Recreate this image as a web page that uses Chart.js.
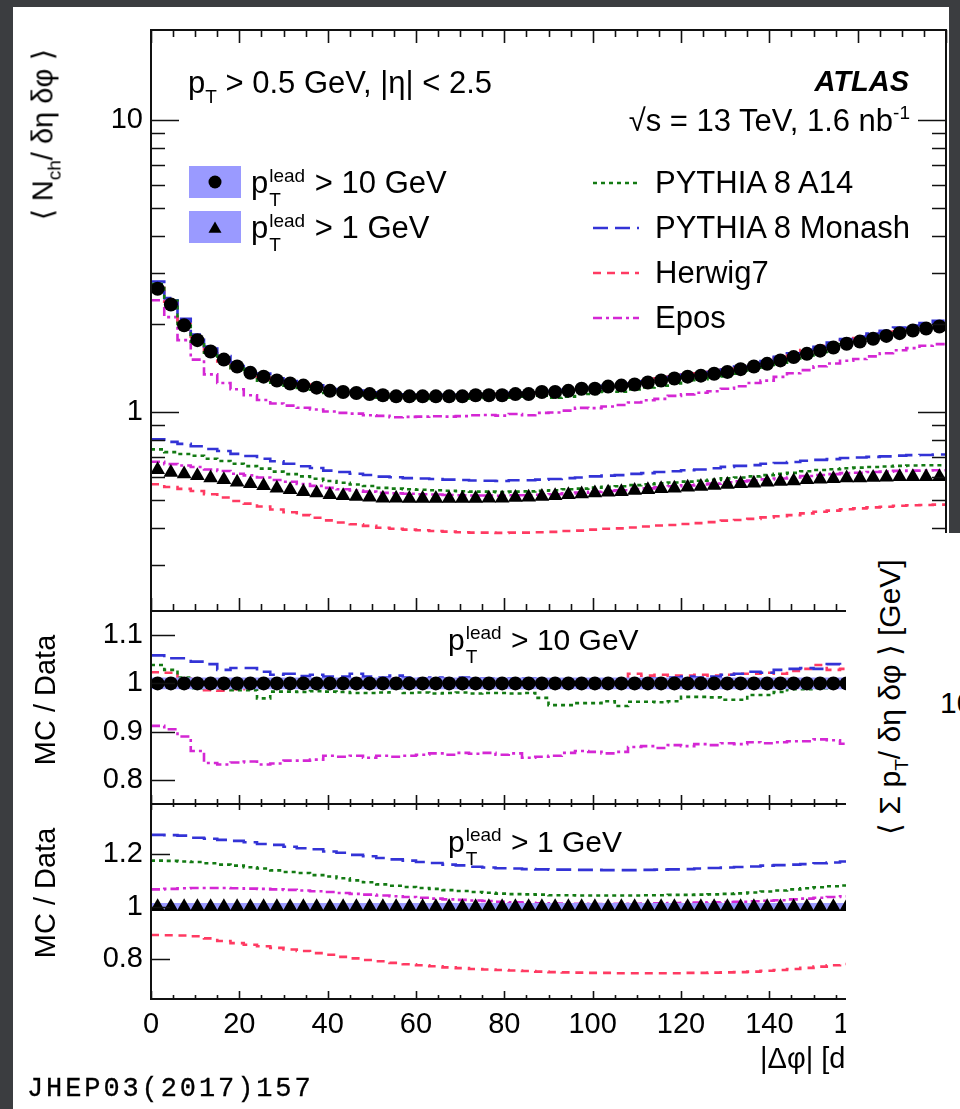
<!DOCTYPE html>
<html><head><meta charset="utf-8">
<script src="https://cdn.jsdelivr.net/npm/chart.js@4.4.1/dist/chart.umd.min.js"></script>
<style>
html,body{margin:0;padding:0;}
body{width:960px;height:1109px;background:#3b3d40;position:relative;overflow:hidden;font-family:'Liberation Sans',Arial,Helvetica,sans-serif;}
#sheet{position:absolute;left:13px;top:7px;width:936px;height:1102px;background:#fff;z-index:0;}
canvas{position:absolute;left:0;top:0;}
.t{position:absolute;white-space:nowrap;color:#000;line-height:1;z-index:4;}
#overlay{position:absolute;left:846px;top:533px;width:114px;height:576px;background:#fff;overflow:hidden;z-index:6;}
</style></head>
<body>
<div id="sheet"></div>
<canvas id="c1" width="960" height="1109" style="z-index:1"></canvas>
<canvas id="c2" width="960" height="1109" style="z-index:2"></canvas>
<canvas id="c3" width="960" height="1109" style="z-index:3"></canvas>
<div id="overlay"></div>
<script>
// ---------------- data ----------------
const binCenters = [1.5,4.5,7.5,10.5,13.5,16.5,19.5,22.5,25.5,28.5,31.5,34.5,37.5,40.5,43.5,46.5,49.5,52.5,55.5,58.5,61.5,64.5,67.5,70.5,73.5,76.5,79.5,82.5,85.5,88.5,91.5,94.5,97.5,100.5,103.5,106.5,109.5,112.5,115.5,118.5,121.5,124.5,127.5,130.5,133.5,136.5,139.5,142.5,145.5,148.5,151.5,154.5,157.5,160.5,163.5,166.5,169.5,172.5,175.5,178.5];
const binWidth = 3;

// pT lead > 10 GeV
const data10 = [2.64,2.33,1.98,1.76,1.61,1.51,1.43,1.36,1.32,1.28,1.25,1.23,1.21,1.18,1.17,1.16,1.15,1.14,1.13,1.13,1.13,1.13,1.13,1.13,1.14,1.14,1.14,1.15,1.15,1.17,1.17,1.18,1.20,1.20,1.22,1.23,1.24,1.26,1.28,1.30,1.32,1.33,1.35,1.37,1.40,1.43,1.46,1.50,1.54,1.58,1.62,1.66,1.71,1.74,1.78,1.82,1.86,1.90,1.93,1.96];
const a14_10 = [2.74,2.40,2.00,1.74,1.594,1.495,1.410,1.341,1.279,1.258,1.229,1.208,1.191,1.160,1.149,1.137,1.127,1.118,1.119,1.107,1.109,1.106,1.107,1.109,1.116,1.117,1.117,1.126,1.127,1.135,1.117,1.127,1.151,1.151,1.175,1.172,1.193,1.212,1.230,1.252,1.283,1.293,1.311,1.323,1.352,1.396,1.425,1.473,1.522,1.561,1.604,1.652,1.703,1.737,1.78,1.82,1.856,1.90,1.93,1.96];
const monash10 = [2.793,2.451,2.083,1.839,1.674,1.552,1.476,1.404,1.352,1.303,1.275,1.248,1.232,1.197,1.186,1.183,1.166,1.154,1.148,1.144,1.141,1.144,1.141,1.144,1.151,1.151,1.149,1.162,1.162,1.179,1.177,1.189,1.207,1.207,1.227,1.237,1.250,1.273,1.293,1.316,1.338,1.346,1.369,1.395,1.428,1.464,1.492,1.542,1.586,1.631,1.669,1.726,1.775,1.810,1.855,1.893,1.944,1.976,2.015,2.050];
const herwig10 = [2.701,2.381,2.000,1.760,1.587,1.487,1.413,1.346,1.309,1.280,1.258,1.240,1.216,1.189,1.177,1.172,1.157,1.149,1.141,1.139,1.141,1.139,1.141,1.141,1.149,1.151,1.149,1.157,1.159,1.177,1.175,1.187,1.205,1.207,1.226,1.237,1.265,1.280,1.303,1.321,1.341,1.354,1.372,1.395,1.428,1.459,1.492,1.530,1.580,1.627,1.682,1.707,1.761,1.789,1.833,1.878,1.916,1.953,1.988,2.019];
const epos10 = [2.41,2.11,1.76,1.51,1.344,1.256,1.195,1.140,1.098,1.068,1.050,1.033,1.019,1.003,0.992,0.986,0.973,0.969,0.958,0.961,0.963,0.966,0.963,0.967,0.974,0.976,0.971,0.983,0.973,0.992,0.995,1.010,1.032,1.030,1.043,1.055,1.076,1.096,1.108,1.134,1.148,1.162,1.177,1.200,1.224,1.256,1.279,1.317,1.355,1.390,1.432,1.464,1.496,1.517,1.549,1.587,1.626,1.653,1.683,1.705];

// pT lead > 1 GeV
const data1 = [0.633,0.620,0.612,0.604,0.593,0.585,0.574,0.567,0.558,0.548,0.541,0.533,0.527,0.520,0.516,0.513,0.510,0.506,0.506,0.505,0.505,0.505,0.505,0.505,0.505,0.506,0.506,0.509,0.510,0.513,0.516,0.520,0.523,0.527,0.531,0.533,0.538,0.541,0.545,0.548,0.552,0.555,0.559,0.564,0.567,0.570,0.574,0.577,0.580,0.585,0.588,0.590,0.593,0.594,0.596,0.597,0.599,0.600,0.600,0.600];
const a14_1 = [0.744,0.728,0.717,0.707,0.691,0.679,0.664,0.652,0.639,0.624,0.612,0.601,0.590,0.580,0.572,0.564,0.557,0.549,0.546,0.543,0.541,0.539,0.537,0.535,0.533,0.533,0.531,0.533,0.534,0.537,0.539,0.543,0.546,0.550,0.554,0.556,0.561,0.565,0.569,0.573,0.577,0.581,0.585,0.592,0.596,0.601,0.607,0.613,0.618,0.626,0.632,0.636,0.641,0.644,0.647,0.650,0.653,0.655,0.656,0.656];
const monash1 = [0.806,0.789,0.777,0.762,0.746,0.734,0.718,0.706,0.691,0.677,0.664,0.651,0.642,0.629,0.622,0.614,0.608,0.600,0.597,0.593,0.591,0.589,0.586,0.584,0.582,0.581,0.580,0.583,0.583,0.586,0.589,0.593,0.596,0.601,0.605,0.607,0.613,0.617,0.622,0.626,0.631,0.635,0.641,0.648,0.653,0.657,0.664,0.668,0.673,0.680,0.685,0.689,0.695,0.698,0.701,0.704,0.708,0.711,0.712,0.714];
const herwig1 = [0.565,0.553,0.545,0.536,0.522,0.509,0.495,0.485,0.474,0.463,0.453,0.443,0.434,0.425,0.418,0.412,0.407,0.401,0.398,0.395,0.393,0.391,0.389,0.387,0.386,0.386,0.385,0.386,0.386,0.387,0.388,0.391,0.392,0.395,0.398,0.399,0.402,0.405,0.408,0.410,0.413,0.416,0.419,0.424,0.426,0.430,0.435,0.439,0.443,0.449,0.455,0.459,0.464,0.467,0.471,0.473,0.477,0.479,0.480,0.481];
const epos1 = [0.675,0.662,0.655,0.647,0.635,0.627,0.614,0.606,0.596,0.584,0.576,0.566,0.558,0.549,0.543,0.538,0.533,0.528,0.526,0.524,0.522,0.521,0.519,0.518,0.517,0.517,0.516,0.518,0.518,0.520,0.522,0.526,0.529,0.532,0.536,0.539,0.544,0.547,0.552,0.556,0.560,0.564,0.568,0.574,0.578,0.582,0.587,0.591,0.596,0.603,0.608,0.612,0.617,0.619,0.622,0.624,0.628,0.629,0.630,0.631];

// MC / Data ratios
const ratioData = [1,1,1,1,1,1,1,1,1,1,1,1,1,1,1,1,1,1,1,1,1,1,1,1,1,1,1,1,1,1,1,1,1,1,1,1,1,1,1,1,1,1,1,1,1,1,1,1,1,1,1,1,1,1,1,1,1,1,1,1];
const rA14_10 = [1.038,1.028,1.012,0.99,0.99,0.99,0.986,0.986,0.969,0.983,0.983,0.982,0.984,0.983,0.982,0.98,0.98,0.981,0.99,0.98,0.981,0.979,0.98,0.981,0.979,0.98,0.98,0.979,0.98,0.97,0.955,0.955,0.959,0.959,0.963,0.953,0.962,0.962,0.961,0.963,0.972,0.972,0.971,0.966,0.966,0.976,0.976,0.982,0.988,0.988,0.99,0.995,0.996,0.998,1.0,1.0,0.998,1.0,1.0,1.0];
const rMon10 = [1.058,1.052,1.052,1.045,1.040,1.028,1.032,1.032,1.024,1.018,1.020,1.015,1.018,1.014,1.014,1.020,1.014,1.012,1.016,1.012,1.010,1.012,1.010,1.012,1.010,1.010,1.008,1.010,1.010,1.008,1.006,1.008,1.006,1.006,1.006,1.006,1.008,1.010,1.010,1.012,1.014,1.012,1.014,1.018,1.020,1.024,1.022,1.028,1.030,1.032,1.030,1.040,1.038,1.040,1.042,1.040,1.045,1.040,1.044,1.046];
const rHer10 = [1.023,1.022,1.01,1.0,0.986,0.985,0.988,0.99,0.992,1.0,1.006,1.008,1.005,1.008,1.006,1.01,1.006,1.008,1.01,1.008,1.01,1.008,1.01,1.01,1.008,1.01,1.008,1.006,1.008,1.006,1.004,1.006,1.004,1.006,1.005,1.006,1.02,1.016,1.018,1.016,1.016,1.018,1.016,1.018,1.02,1.02,1.022,1.02,1.026,1.03,1.038,1.028,1.03,1.028,1.03,1.032,1.03,1.028,1.03,1.03];
const rEpos10 = [0.912,0.905,0.89,0.86,0.835,0.832,0.836,0.838,0.832,0.834,0.84,0.84,0.842,0.85,0.848,0.85,0.846,0.85,0.848,0.85,0.852,0.855,0.852,0.856,0.854,0.856,0.852,0.855,0.846,0.848,0.85,0.856,0.86,0.858,0.855,0.858,0.868,0.87,0.866,0.872,0.87,0.874,0.872,0.876,0.874,0.878,0.876,0.878,0.88,0.88,0.884,0.882,0.875,0.872,0.87,0.872,0.874,0.87,0.872,0.87];
const rA14_1 = [1.175,1.174,1.172,1.170,1.165,1.160,1.156,1.150,1.145,1.138,1.132,1.128,1.120,1.115,1.108,1.100,1.093,1.085,1.080,1.075,1.071,1.068,1.063,1.060,1.056,1.053,1.050,1.048,1.047,1.046,1.044,1.044,1.043,1.043,1.043,1.043,1.043,1.044,1.044,1.045,1.045,1.046,1.047,1.049,1.051,1.054,1.058,1.062,1.066,1.070,1.074,1.078,1.081,1.084,1.086,1.088,1.090,1.092,1.093,1.094];
const rMon1 = [1.273,1.272,1.27,1.262,1.258,1.254,1.25,1.245,1.238,1.235,1.228,1.222,1.218,1.21,1.205,1.197,1.192,1.185,1.18,1.175,1.17,1.166,1.16,1.157,1.152,1.149,1.146,1.145,1.143,1.142,1.141,1.141,1.140,1.140,1.139,1.139,1.139,1.140,1.141,1.142,1.143,1.145,1.147,1.149,1.151,1.153,1.156,1.158,1.160,1.162,1.165,1.168,1.172,1.175,1.177,1.18,1.182,1.185,1.187,1.19];
const rHer1 = [0.893,0.892,0.891,0.888,0.880,0.870,0.862,0.856,0.850,0.844,0.838,0.832,0.824,0.818,0.810,0.804,0.798,0.793,0.787,0.782,0.778,0.774,0.770,0.767,0.764,0.762,0.760,0.758,0.756,0.754,0.752,0.751,0.750,0.749,0.749,0.748,0.748,0.748,0.748,0.748,0.749,0.749,0.750,0.751,0.752,0.754,0.757,0.760,0.764,0.768,0.773,0.778,0.783,0.787,0.790,0.793,0.796,0.798,0.800,0.802];
const rEpos1 = [1.066,1.068,1.070,1.071,1.071,1.071,1.070,1.069,1.068,1.066,1.064,1.062,1.059,1.056,1.052,1.049,1.046,1.043,1.040,1.037,1.034,1.031,1.028,1.026,1.024,1.022,1.019,1.017,1.015,1.013,1.012,1.011,1.011,1.010,1.010,1.011,1.011,1.012,1.013,1.014,1.015,1.016,1.017,1.018,1.019,1.021,1.023,1.025,1.028,1.031,1.034,1.037,1.040,1.042,1.044,1.046,1.048,1.049,1.050,1.051];
const ratioBandHalf10 = 0.012;
const ratioBandHalf1 = 0.014;

// tick labels
const xTickValues = [0,20,40,60,80,100,120,140,160,180];
const xMinorValues = [5,10,15,25,30,35,45,50,55,65,70,75,85,90,95,105,110,115,125,130,135,145,150,155,165,170,175];
const topYTicks = [0.3,0.4,0.5,0.6,0.7,0.8,0.9,1,2,3,4,5,6,7,8,9,10];
const topYLabels = {1:'1', 10:'10'};
const r10YTicks = [0.8,0.9,1,1.1];
const r10YLabels = {0.8:'0.8', 0.9:'0.9', 1:'1', 1.1:'1.1'};
const r1YTicks = [0.8,1,1.2];
const r1YLabels = {0.8:'0.8', 1:'1', 1.2:'1.2'};
const seriesNames = ['PYTHIA 8 A14','PYTHIA 8 Monash','Herwig7','Epos'];

// ---------------- styles ----------------
const FONT = "'Liberation Sans', Arial, Helvetica, sans-serif";
const ST = {
  a14:  {color:'#137a13', dash:[4,4]},
  mon:  {color:'#3333d6', dash:[15,7]},
  her:  {color:'#ff3a62', dash:[8,6]},
  epos: {color:'#d427d4', dash:[9,4,3,4]}
};
const BAND = '#9a9aff';
const CIRCLE_R = 7, TRI_R = 8.5;

function stepPts(vals){
  const p = vals.map((v,i)=>({x: binCenters[i]-binWidth/2, y: v}));
  p.push({x: binCenters[binCenters.length-1]+binWidth/2, y: vals[vals.length-1]});
  return p;
}
function ctrPts(vals){ return vals.map((v,i)=>({x: binCenters[i], y: v})); }
function lineDS(label, vals, st){
  return {label, data: stepPts(vals), borderColor: st.color, borderDash: st.dash, borderWidth: 2.6,
    stepped: true, pointRadius: 0, fill: false, order: 3, borderCapStyle:'butt'};
}
function markDS(label, vals, style, r){
  return {label, data: ctrPts(vals), pointStyle: style, pointRadius: r, pointHoverRadius: r,
    backgroundColor:'#000', borderColor:'#000', borderWidth: 0, showLine: false, order: 0};
}
function bandDS(y0, y1){
  return [
    {label:'band', data:[{x:0,y:y1},{x:180,y:y1}], borderWidth:0, pointRadius:0, fill:'+1', backgroundColor:BAND, order:1},
    {label:'bandlo', data:[{x:0,y:y0},{x:180,y:y0}], borderWidth:0, pointRadius:0, fill:false, order:1}
  ];
}

function framePlugin(o){
  return {
    id: 'rootFrame',
    afterDatasetsDraw(chart){
      const {ctx, chartArea:a, scales:{x, y}} = chart;
      ctx.save();
      ctx.setLineDash([]);
      ctx.strokeStyle = '#111';
      ctx.lineWidth = 1.6;
      ctx.beginPath();
      const xt = (v, major) => {
        const px = Math.round(x.getPixelForValue(v)) + 0.5;
        const lb = major ? o.xMajB : o.xMinB, lt = major ? o.xMajT : o.xMinT;
        if (lb) { ctx.moveTo(px, a.bottom); ctx.lineTo(px, a.bottom - lb); }
        if (lt) { ctx.moveTo(px, a.top); ctx.lineTo(px, a.top + lt); }
      };
      xTickValues.forEach(v => xt(v, true));
      xMinorValues.forEach(v => xt(v, false));
      const yt = (v, L) => {
        const py = Math.round(y.getPixelForValue(v)) + 0.5;
        ctx.moveTo(a.left, py); ctx.lineTo(a.left + L, py);
        ctx.moveTo(a.right, py); ctx.lineTo(a.right - L, py);
      };
      o.yMajor.forEach(v => yt(v, o.yMaj));
      (o.yMinor||[]).forEach(v => yt(v, o.yMin));
      ctx.stroke();
      ctx.lineWidth = 2;
      ctx.strokeRect(a.left, a.top, a.width, a.height);
      if (o.legend) o.legend(ctx, chart);
      ctx.restore();
    }
  };
}

function drawLegend(ctx, chart){
  ctx.fillStyle = BAND;
  ctx.fillRect(189, 166, 52, 32);
  ctx.fillRect(189, 211, 52, 32);
  ctx.fillStyle = '#000';
  Chart.helpers.drawPoint(ctx, {pointStyle:'circle', radius:6.5, rotation:0, borderWidth:0}, 215, 182);
  Chart.helpers.drawPoint(ctx, {pointStyle:'triangle', radius:7.5, rotation:0, borderWidth:0}, 215, 229);
  const sts = [ST.a14, ST.mon, ST.her, ST.epos];
  const ys = [183, 228, 273, 318];
  sts.forEach((s,i) => {
    ctx.strokeStyle = s.color; ctx.lineWidth = 2.6; ctx.setLineDash(s.dash);
    ctx.beginPath(); ctx.moveTo(593, ys[i]); ctx.lineTo(639, ys[i]); ctx.stroke();
  });
  ctx.setLineDash([]);
}

function yScale(type, min, max, tickVals, labels){
  return {
    type, min, max,
    afterFit(s){ s.width = 151; s.paddingTop = 0; s.paddingBottom = 0; },
    afterBuildTicks(s){ s.ticks = tickVals.map(v => ({value: v})); },
    ticks:{ callback:(v)=> (labels[v] !== undefined ? labels[v] : ''), font:{family:FONT, size:29}, color:'#000', padding:8, autoSkip:false },
    grid:{display:false, drawTicks:false}, border:{display:false}
  };
}
function baseOpts(pad, y, x){
  return {
    responsive:false, animation:false, events:[], devicePixelRatio:1,
    layout:{padding:pad},
    plugins:{legend:{display:false}, tooltip:{enabled:false}},
    scales:{x, y}
  };
}
const xHidden = {type:'linear', min:0, max:180, display:false};

// ---- top panel ----
new Chart(document.getElementById('c1'), {
  type:'line',
  data:{datasets:[
    markDS('p_T^lead > 10 GeV', data10, 'circle', CIRCLE_R),
    markDS('p_T^lead > 1 GeV', data1, 'triangle', TRI_R),
    lineDS(seriesNames[0]+' (>10)', a14_10, ST.a14),
    lineDS(seriesNames[1]+' (>10)', monash10, ST.mon),
    lineDS(seriesNames[2]+' (>10)', herwig10, ST.her),
    lineDS(seriesNames[3]+' (>10)', epos10, ST.epos),
    lineDS(seriesNames[0]+' (>1)', a14_1, ST.a14),
    lineDS(seriesNames[1]+' (>1)', monash1, ST.mon),
    lineDS(seriesNames[2]+' (>1)', herwig1, ST.her),
    lineDS(seriesNames[3]+' (>1)', epos1, ST.epos)
  ]},
  options: baseOpts({left:0, right:14, top:30, bottom:498},
    yScale('logarithmic', 0.208, 20.3, topYTicks, topYLabels), xHidden),
  plugins:[framePlugin({xMajB:13, xMinB:7, xMajT:13, xMinT:7, yMaj:28, yMin:14,
    yMajor:[1,10], yMinor:[0.3,0.4,0.5,0.6,0.7,0.8,0.9,2,3,4,5,6,7,8,9], legend: drawLegend})]
});

// ---- ratio panel pT lead > 10 GeV ----
new Chart(document.getElementById('c2'), {
  type:'line',
  data:{datasets:[
    markDS('Data (>10)', ratioData, 'circle', CIRCLE_R),
    ...bandDS(1 - ratioBandHalf10, 1 + ratioBandHalf10),
    lineDS(seriesNames[0], rA14_10, ST.a14),
    lineDS(seriesNames[1], rMon10, ST.mon),
    lineDS(seriesNames[2], rHer10, ST.her),
    lineDS(seriesNames[3], rEpos10, ST.epos)
  ]},
  options: baseOpts({left:0, right:14, top:611, bottom:305},
    yScale('linear', 0.75, 1.15, r10YTicks, r10YLabels), xHidden),
  plugins:[framePlugin({xMajB:9, xMinB:5, xMajT:0, xMinT:0, yMaj:24, yMajor:r10YTicks})]
});

// ---- ratio panel pT lead > 1 GeV ----
new Chart(document.getElementById('c3'), {
  type:'line',
  data:{datasets:[
    markDS('Data (>1)', ratioData, 'triangle', TRI_R),
    ...bandDS(1 - ratioBandHalf1, 1 + ratioBandHalf1),
    lineDS(seriesNames[0], rA14_1, ST.a14),
    lineDS(seriesNames[1], rMon1, ST.mon),
    lineDS(seriesNames[2], rHer1, ST.her),
    lineDS(seriesNames[3], rEpos1, ST.epos)
  ]},
  options: baseOpts({left:0, right:14, top:804, bottom:50},
    yScale('linear', 0.65, 1.39, r1YTicks, r1YLabels),
    {type:'linear', min:0, max:180, position:'bottom',
     afterFit(s){ s.height = 60; s.paddingLeft = 0; s.paddingRight = 0; },
     afterBuildTicks(s){ s.ticks = xTickValues.map(v => ({value:v})); },
     ticks:{font:{family:FONT, size:29}, color:'#000', padding:9, maxRotation:0, autoSkip:false, callback:(v)=>String(v)},
     grid:{display:false, drawTicks:false}, border:{display:false}}),
  plugins:[framePlugin({xMajB:8, xMinB:4, xMajT:6, xMinT:3, yMaj:19, yMajor:r1YTicks})]
});

// ---------------- text ----------------
const SUB = (t) => `<span style="font-size:19px;position:relative;top:10px">${t}</span>`;
const SUP = (t) => `<span style="font-size:19px;position:relative;top:-12px">${t}</span>`;
const SUPSUB = (sup, sub, w) => `<span style="display:inline-block;position:relative;width:${w}px;height:0"><span style="position:absolute;left:1px;top:-27px;font-size:19px;line-height:1">${sup}</span><span style="position:absolute;left:1px;top:-3px;font-size:19px;line-height:1">${sub}</span></span>`;
function addText(html, x, base, size, opt={}){
  const d = document.createElement('div');
  d.className = 't';
  d.innerHTML = html;
  d.style.fontSize = size + 'px';
  d.style.top = (base - 0.8465*size) + 'px';
  if (opt.align === 'right') d.style.right = (960 - x) + 'px'; else d.style.left = x + 'px';
  if (opt.css) Object.assign(d.style, opt.css);
  (opt.parent || document.body).appendChild(d);
  return d;
}
function addRot(html, cx, cy, size, parent){
  const d = document.createElement('div');
  d.className = 't';
  d.innerHTML = html;
  d.style.fontSize = size + 'px';
  d.style.left = cx + 'px'; d.style.top = cy + 'px';
  d.style.transform = 'translate(-50%,-50%) rotate(-90deg)';
  (parent || document.body).appendChild(d);
  return d;
}

addText(`p${SUB('T')} &gt; 0.5 GeV, |η| &lt; 2.5`, 188, 93, 31);
addText(`ATLAS`, 909, 92, 29, {align:'right', css:{fontWeight:'bold', fontStyle:'italic'}});
addText(`√s = 13 TeV, 1.6 nb${SUP('-1')}`, 910, 131, 31, {align:'right'});
addText(`p${SUPSUB('lead','T',38)} &gt; 10 GeV`, 251, 193, 31);
addText(`p${SUPSUB('lead','T',38)} &gt; 1 GeV`, 251, 238, 31);
addText(seriesNames[0], 655, 193, 31);
addText(seriesNames[1], 655, 238, 31);
addText(seriesNames[2], 655, 283, 31);
addText(seriesNames[3], 655, 328, 31);
addText(`p${SUPSUB('lead','T',38)} &gt; 10 GeV`, 448, 650, 30);
addText(`p${SUPSUB('lead','T',38)} &gt; 1 GeV`, 448, 852, 30);
addText(`|Δφ| [deg]`, 760, 1069, 29);
addText(`JHEP03(2017)157`, 27, 1099, 27, {css:{fontFamily:"'Liberation Mono', monospace", letterSpacing:'2.9px', webkitTextStroke:'0.3px #000'}});

addRot(`⟨ N<span style="font-size:19px;position:relative;top:8px">ch</span>/ δη δφ ⟩`, 43, 135, 29);
addRot(`MC / Data`, 45, 700, 29);
addRot(`MC / Data`, 45, 893, 29);

const ov = document.getElementById('overlay');
addRot(`⟨ Σ p<span style="font-size:19px;position:relative;top:8px">T</span>/ δη δφ ⟩ [GeV]`, 44, 164, 30, ov);
addText(`10`, 94, 180, 30, {parent: ov});
</script>
</body></html>
